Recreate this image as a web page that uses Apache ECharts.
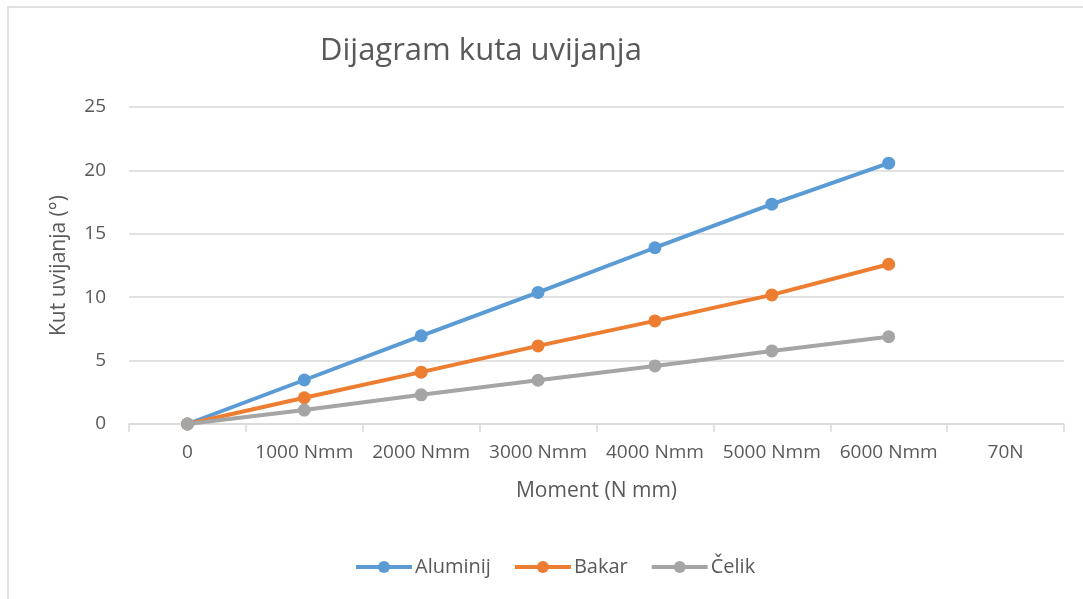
<!DOCTYPE html>
<html>
<head>
<meta charset="utf-8">
<title>Dijagram kuta uvijanja</title>
<script src="https://cdn.jsdelivr.net/npm/echarts@6/dist/echarts.min.js"></script>
<style>
  html, body { margin: 0; padding: 0; background: #ffffff; }
  #chart { width: 1083px; height: 599px; }
</style>
</head>
<body>
<div id="chart"></div>
<script>
// Torque steps along the category axis (last one has no measurements)
const categories = ['0', '1000 Nmm', '2000 Nmm', '3000 Nmm', '4000 Nmm', '5000 Nmm', '6000 Nmm', '70N'];

// Twist angle in degrees for each material
const aluminij = [0, 3.47, 6.95, 10.38, 13.9, 17.34, 20.57];
const bakar    = [0, 2.07, 4.09, 6.16, 8.13, 10.18, 12.6];
const celik    = [0, 1.1, 2.3, 3.45, 4.58, 5.76, 6.88];

const yTicks = { min: 0, max: 25, interval: 5 };

const textColor = '#595959';
const gridColor = '#d9d9d9';
const font = '"Open Sans", "Noto Sans", sans-serif';

const chart = echarts.init(document.getElementById('chart'), null, { renderer: 'canvas' });

function lineSeries(name, data, color) {
  return {
    name: name,
    type: 'line',
    data: data,
    symbol: 'circle',
    symbolSize: 13,
    lineStyle: { width: 4, color: color },
    itemStyle: { color: color },
    emphasis: { disabled: true },
    animation: false
  };
}

chart.setOption({
  backgroundColor: '#ffffff',
  textStyle: { fontFamily: font, color: textColor },
  graphic: [{
    type: 'rect',
    shape: { x: 8, y: 7, width: 1100, height: 620 },
    style: { fill: 'none', stroke: gridColor, lineWidth: 1.5 },
    silent: true
  }],
  title: {
    text: 'Dijagram kuta uvijanja',
    left: 315,
    top: 31,
    textStyle: { fontFamily: font, fontSize: 31, fontWeight: 'normal', color: textColor }
  },
  legend: {
    left: 349,
    top: 552,
    itemWidth: 56,
    itemHeight: 15,
    itemGap: 22,
    lineStyle: { width: 4 },
    textStyle: { fontFamily: font, fontSize: 20, color: textColor, padding: [0, 0, 0, -2] },
    data: ['Aluminij', 'Bakar', 'Čelik']
  },
  grid: { left: 129, right: 19, top: 107, bottom: 175, containLabel: false },
  xAxis: {
    type: 'category',
    data: categories,
    boundaryGap: true,
    name: 'Moment (N mm)',
    nameLocation: 'middle',
    nameGap: 57,
    nameTextStyle: { fontFamily: font, fontSize: 21, color: textColor },
    axisLine: { show: true, lineStyle: { color: gridColor, width: 1.5 } },
    axisTick: { show: true, length: 8, lineStyle: { color: gridColor, width: 1.5 } },
    axisLabel: { fontFamily: font, fontSize: 19, color: textColor, margin: 19, interval: 0 },
    splitLine: { show: false }
  },
  yAxis: {
    type: 'value',
    min: yTicks.min,
    max: yTicks.max,
    interval: yTicks.interval,
    name: 'Kut uvijanja (°)',
    nameLocation: 'middle',
    nameGap: 59,
    nameRotate: 90,
    nameTextStyle: { fontFamily: font, fontSize: 21, color: textColor },
    axisLine: { show: false },
    axisTick: { show: false },
    axisLabel: { fontFamily: font, fontSize: 19, color: textColor, margin: 23 },
    splitLine: { show: true, lineStyle: { color: gridColor, width: 1.5 } }
  },
  series: [
    lineSeries('Aluminij', aluminij, '#5B9BD5'),
    lineSeries('Bakar', bakar, '#ED7D31'),
    lineSeries('Čelik', celik, '#A5A5A5')
  ]
});
</script>
</body>
</html>
